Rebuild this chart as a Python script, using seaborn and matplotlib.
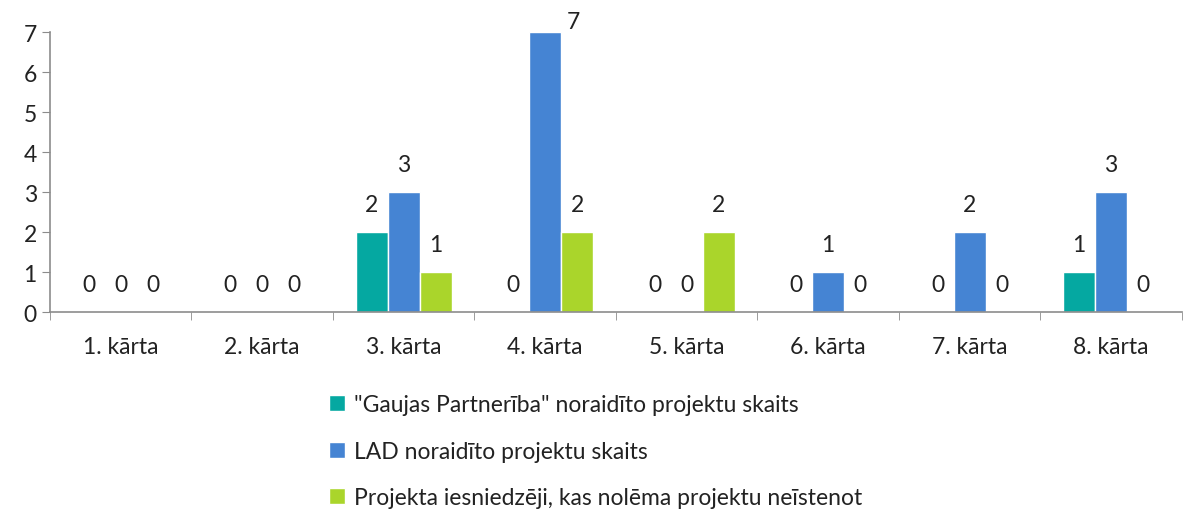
import pandas as pd
import matplotlib.pyplot as plt
import seaborn as sns
from matplotlib.ticker import FixedLocator

# dati no attēla
kartas = ['1. kārta', '2. kārta', '3. kārta', '4. kārta',
          '5. kārta', '6. kārta', '7. kārta', '8. kārta']
gaujas = [0, 0, 2, 0, 0, 0, 0, 1]
lad = [0, 0, 3, 7, 0, 1, 2, 3]
iesniedzeji = [0, 0, 1, 2, 2, 0, 0, 0]
series_names = ['"Gaujas Partnerība" noraidīto projektu skaits',
                'LAD noraidīto projektu skaits',
                'Projekta iesniedzēji, kas nolēma projektu neīstenot']
colors = ['#05A8A1', '#4584D3', '#AAD52B']

rows = []
for name, vals in zip(series_names, [gaujas, lad, iesniedzeji]):
    for k, v in zip(kartas, vals):
        rows.append({'karta': k, 'serija': name, 'skaits': v})
df = pd.DataFrame(rows)

sns.set_style('white')
plt.rcParams['font.family'] = ['Lato', 'DejaVu Sans']
fs = 16.5

fig = plt.figure(figsize=(11.84, 5.10), dpi=100)
ax = fig.add_axes([0.0422, 0.386, 0.956, 0.549])

sns.barplot(data=df, x='karta', y='skaits', hue='serija', palette=colors,
            width=0.68, saturation=1, ax=ax, legend=True)

ax.set_ylim(0, 7)
ax.set_xlim(-0.5, len(kartas) - 0.5)
ax.set_yticks(range(0, 8))
ax.set_xlabel('')
ax.set_ylabel('')

# datu etiķetes
ymax = max(lad)
for cont in ax.containers:
    for bar in cont:
        h = bar.get_height()
        x = bar.get_x() + bar.get_width() / 2
        if h >= ymax:
            ax.annotate(f'{int(h)}', (bar.get_x() + bar.get_width(), h),
                        xytext=(9, 8), textcoords='offset points',
                        ha='center', va='center', fontsize=fs,
                        color='#222222', annotation_clip=False)
        else:
            ax.annotate(f'{int(h)}', (x, h), xytext=(0, 20),
                        textcoords='offset points', ha='center', va='center',
                        fontsize=fs, color='#222222')

for side in ['top', 'right']:
    ax.spines[side].set_visible(False)
for side in ['left', 'bottom']:
    ax.spines[side].set_color('#8c8c8c')
    ax.spines[side].set_linewidth(1.2)

ax.tick_params(axis='y', which='major', length=6, color='#8c8c8c',
               labelsize=fs, labelcolor='#222222', direction='out', left=True)
ax.tick_params(axis='x', which='major', length=0, pad=17,
               labelsize=fs, labelcolor='#222222')
ax.xaxis.set_minor_locator(FixedLocator([i - 0.5 for i in range(len(kartas) + 1)]))
ax.tick_params(axis='x', which='minor', length=6, color='#8c8c8c',
               direction='out', bottom=True)

handles, labels = ax.get_legend_handles_labels()
ax.get_legend().remove()
fig.legend(handles, labels, loc='upper left', bbox_to_anchor=(0.268, 0.247),
           frameon=False, fontsize=fs, handlelength=0.7, handleheight=0.7,
           handletextpad=0.4, labelspacing=1.1, borderpad=0,
           labelcolor='#222222')

fig.savefig('out.png', dpi=100)
